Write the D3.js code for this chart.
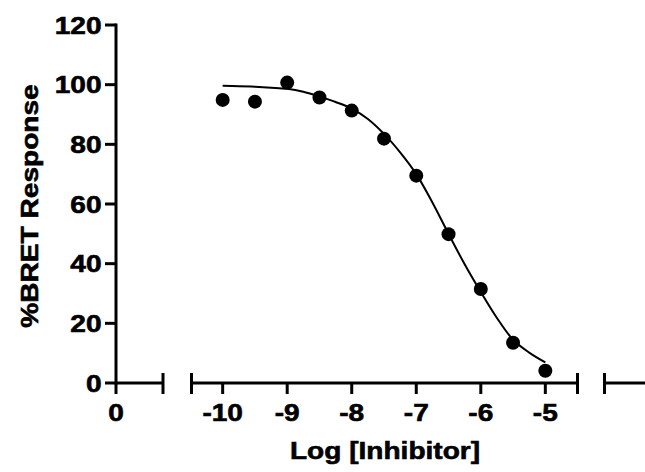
<!DOCTYPE html>
<html>
<head>
<meta charset="utf-8">
<script src="https://cdn.jsdelivr.net/npm/d3@7"></script>
<style>
  html, body { margin: 0; padding: 0; background: #fff; }
  svg { display: block; }
  text { font-family: "Liberation Sans", Arial, Helvetica, sans-serif; font-weight: bold; fill: #000; stroke: #000; stroke-width: 0.6px; }
</style>
</head>
<body>
<svg id="chart" width="645" height="472"></svg>
<script>
// ---- data ----
const logConc = [-10, -9.5, -9, -8.5, -8, -7.5, -7, -6.5, -6, -5.5, -5];
const response = [94.9, 94.3, 100.7, 95.7, 91.3, 81.9, 69.5, 49.9, 31.5, 13.5, 4.1];
// fitted curve
const curveX = [-10, -9.75, -9.5, -9.25, -9, -8.75, -8.5, -8.25, -8, -7.75, -7.5, -7.25, -7, -6.75, -6.5, -6.25, -6, -5.75, -5.5, -5.25, -5];
const curveY = [99.6, 99.5, 99.3, 99.0, 98.6, 97.6, 96.0, 94.2, 92.0, 88.5, 83.5, 77.3, 70.0, 60.5, 50.0, 39.8, 30.5, 21.8, 14.5, 10.2, 6.9];
const yTicks = [0, 20, 40, 60, 80, 100, 120];
const xTicksMain = [-10, -9, -8, -7, -6, -5];
const xTicksZero = [0];
const xTitle = "Log [Inhibitor]";
const yTitle = "%BRET Response";

const svg = d3.select("#chart");
const FS = 24, SX = 1.17;

const y = d3.scaleLinear().domain([0, 120]).range([383, 25]);
// broken x axis: three segments
const xZero = d3.scaleLinear().domain([0, 1]).range([116, 180]);
const xMain = d3.scaleLinear().domain([-10.5, -4.5]).range([190.4, 577.6]);
const xRight = d3.scaleLinear().domain([0, 1]).range([604, 700]);

const axisY0 = y(0);
const black = "#000";

// Y axis
svg.append("line").attr("x1", 116).attr("x2", 116).attr("y1", y(120) - 1.5).attr("y2", y(0) + 1.5)
  .attr("stroke", black).attr("stroke-width", 3);
yTicks.forEach(v => {
  svg.append("line").attr("x1", 105).attr("x2", 116).attr("y1", y(v)).attr("y2", y(v))
    .attr("stroke", black).attr("stroke-width", 3);
  svg.append("text").attr("text-anchor", "end")
    .attr("transform", `translate(101.5,${y(v) + 8.5}) scale(${SX},1)`)
    .style("font-size", FS + "px").text(v);
});

// X axis segments
function segment(scale, x0, x1, ticks, capLeft, capRight) {
  const g = svg.append("g");
  g.append("line").attr("x1", x0).attr("x2", x1).attr("y1", axisY0).attr("y2", axisY0)
    .attr("stroke", black).attr("stroke-width", 3);
  ticks.forEach(t => {
    g.append("line").attr("x1", scale(t)).attr("x2", scale(t))
      .attr("y1", axisY0).attr("y2", axisY0 + 11).attr("stroke", black).attr("stroke-width", 3);
    g.append("text").attr("text-anchor", "middle")
      .attr("transform", `translate(${scale(t)},421) scale(${SX},1)`)
      .style("font-size", FS + "px").text(t);
  });
  [capLeft ? x0 : null, capRight ? x1 : null].forEach(cx => {
    if (cx === null) return;
    g.append("line").attr("x1", cx).attr("x2", cx).attr("y1", axisY0 - 10).attr("y2", axisY0 + 11)
      .attr("stroke", black).attr("stroke-width", 3);
  });
}
segment(xZero, 116, 163, xTicksZero, false, true);
segment(xMain, 191.5, 577.5, xTicksMain, true, true);
segment(xRight, 604.5, 650, [], true, false);

// curve
const line = d3.line().x(d => xMain(d[0])).y(d => y(d[1])).curve(d3.curveCatmullRom);
svg.append("path").datum(curveX.map((v, i) => [v, curveY[i]]))
  .attr("d", line).attr("fill", "none").attr("stroke", black).attr("stroke-width", 2);

// points
svg.append("g").selectAll("circle").data(logConc.map((v, i) => [v, response[i]]))
  .join("circle").attr("cx", d => xMain(d[0])).attr("cy", d => y(d[1])).attr("r", 7).attr("fill", black);

// titles
svg.append("text").attr("text-anchor", "middle")
  .attr("transform", `translate(385,459) scale(${SX},1)`)
  .style("font-size", FS + "px").text(xTitle);
svg.append("text").attr("text-anchor", "middle")
  .attr("transform", `translate(38,206) rotate(-90) scale(${SX},1)`)
  .style("font-size", FS + "px").text(yTitle);
</script>
</body>
</html>
